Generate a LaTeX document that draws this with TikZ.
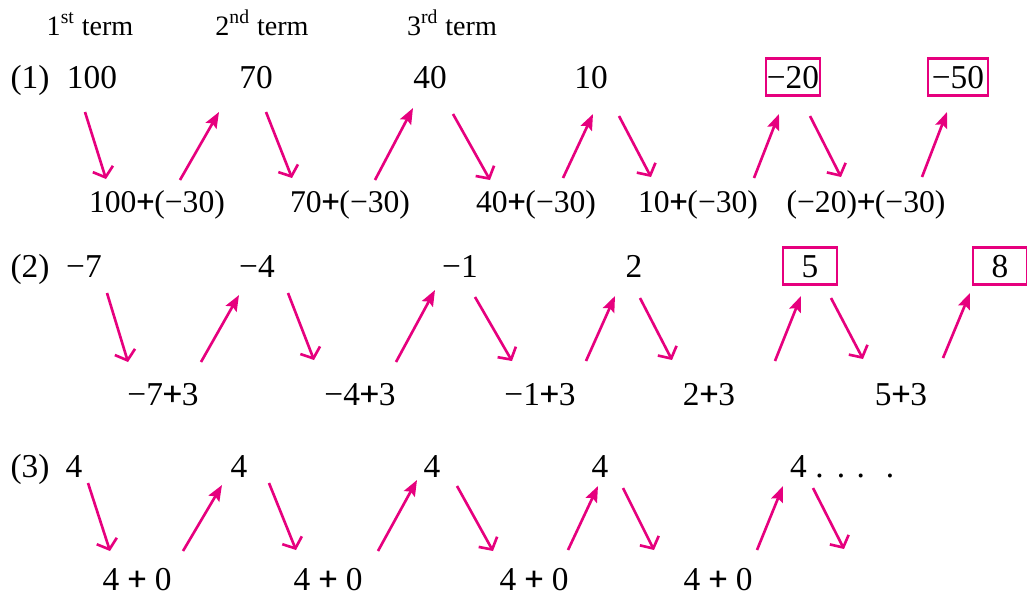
\documentclass[tikz,border=0pt]{standalone}
\usepackage{fontspec}
\setmainfont{Liberation Serif}
\newfontfamily\plusfont[FakeBold=2.5]{Liberation Serif}
\newcommand\bplus{{\plusfont +}}
\usetikzlibrary{calc, arrows.meta}
\definecolor{seqpink}{HTML}{E6007E}

\begin{document}
\begin{tikzpicture}[x=0.02cm, y=-0.02cm,
    term/.style={anchor=base, font=\fontsize{19}{22}\selectfont},
    sumone/.style={anchor=base, font=\fontsize{18}{21}\selectfont},
    headtext/.style={anchor=base, font=\fontsize{16}{19}\selectfont},
    boxed/.style={term, draw=seqpink, line width=1.6pt, inner xsep=0.5pt,
        minimum width=1.08cm, minimum height=0.74cm},
    goesdown/.style={seqpink, line width=1.5pt, -{Straight Barb[length=5pt,width=12pt]}},
    goesup/.style={seqpink, line width=1.5pt, -{Stealth[length=9pt,width=7pt,inset=1.5pt]}}]

    \useasboundingbox (0,0) rectangle (1027,596);

    % headings
    \node[headtext] (h1) at (90,35) {1\textsuperscript{st} term};
    \node[headtext] (h2) at (262,35) {2\textsuperscript{nd} term};
    \node[headtext] (h3) at (452,35) {3\textsuperscript{rd} term};

    % sequence (1)
    \node[term] (n1) at (30,88) {(1)};
    \node[term] (t11) at (92,88) {100};
    \node[term] (t12) at (256,88) {70};
    \node[term] (t13) at (430,88) {40};
    \node[term] (t14) at (591,88) {10};
    \node[boxed] (t15) at (793,88) {−20};
    \node[boxed, minimum width=1.2cm] (t16) at (958,88) {−50};
    \node[sumone] (e11) at (157,212) {100\bplus(−30)};
    \node[sumone] (e12) at (350,212) {70\bplus(−30)};
    \node[sumone] (e13) at (536,212) {40\bplus(−30)};
    \node[sumone] (e14) at (698,212) {10\bplus(−30)};
    \node[sumone] (e15) at (866,212) {(−20)\bplus(−30)};
    \draw[goesdown] ($(t11.base)+(-7,24)$) -- ($(e11.base)+(-51,-33)$);
    \draw[goesup] ($(e11.base)+(23,-32)$) -- ($(t12.base)+(-37,24)$);
    \draw[goesdown] ($(t12.base)+(10,24)$) -- ($(e12.base)+(-58,-34)$);
    \draw[goesup] ($(e12.base)+(25,-32)$) -- ($(t13.base)+(-17,20)$);
    \draw[goesdown] ($(t13.base)+(23,26)$) -- ($(e13.base)+(-46,-32)$);
    \draw[goesup] ($(e13.base)+(27,-34)$) -- ($(t14.base)+(2,26)$);
    \draw[goesdown] ($(t14.base)+(28,28)$) -- ($(e14.base)+(-47,-35)$);
    \draw[goesup] ($(e14.base)+(56,-34)$) -- ($(t15.base)+(-14,26)$);
    \draw[goesdown] ($(t15.base)+(17,28)$) -- ($(e15.base)+(-25,-35)$);
    \draw[goesup] ($(e15.base)+(56,-35)$) -- ($(t16.base)+(-11,24)$);

    % sequence (2)
    \node[term] (n2) at (30,277) {(2)};
    \node[term] (t21) at (84,277) {−7};
    \node[term] (t22) at (257,277) {−4};
    \node[term] (t23) at (460,277) {−1};
    \node[term] (t24) at (634,277) {2};
    \node[boxed] (t25) at (810,277) {5};
    \node[boxed] (t26) at (1000,277) {8};
    \node[term] (e21) at (163,405) {−7\bplus3};
    \node[term] (e22) at (360,405) {−4\bplus3};
    \node[term] (e23) at (540,405) {−1\bplus3};
    \node[term] (e24) at (709,405) {2\bplus3};
    \node[term] (e25) at (901,405) {5\bplus3};
    \draw[goesdown] ($(t21.base)+(23,16)$) -- ($(e21.base)+(-35,-43)$);
    \draw[goesup] ($(e21.base)+(38,-43)$) -- ($(t22.base)+(-18,18)$);
    \draw[goesdown] ($(t22.base)+(31,16)$) -- ($(e22.base)+(-46,-45)$);
    \draw[goesup] ($(e22.base)+(36,-43)$) -- ($(t23.base)+(-25,13)$);
    \draw[goesdown] ($(t23.base)+(15,20)$) -- ($(e23.base)+(-28,-44)$);
    \draw[goesup] ($(e23.base)+(46,-44)$) -- ($(t24.base)+(-19,19)$);
    \draw[goesdown] ($(t24.base)+(6,21)$) -- ($(e24.base)+(-37,-45)$);
    \draw[goesup] ($(e24.base)+(66,-44)$) -- ($(t25.base)+(-9,19)$);
    \draw[goesdown] ($(t25.base)+(21,21)$) -- ($(e25.base)+(-38,-46)$);
    \draw[goesup] ($(e25.base)+(42,-47)$) -- ($(t26.base)+(-30,16)$);

    % sequence (3)
    \node[term] (n3) at (30,477) {(3)};
    \node[term] (t31) at (74,477) {4};
    \node[term] (t32) at (239,477) {4};
    \node[term] (t33) at (432,477) {4};
    \node[term] (t34) at (600,477) {4};
    \node[term, anchor=base west] (t35) at (784,477)
        {4 .\hspace{7.5pt}.\hspace{6.5pt}.\hspace{12pt}.};
    \node[term] (e31) at (137,590) {4 \bplus{} 0};
    \node[term] (e32) at (328,590) {4 \bplus{} 0};
    \node[term] (e33) at (534,590) {4 \bplus{} 0};
    \node[term] (e34) at (718,590) {4 \bplus{} 0};
    \draw[goesdown] ($(t31.base)+(14,6)$) -- ($(e31.base)+(-27,-39)$);
    \draw[goesup] ($(e31.base)+(46,-39)$) -- ($(t32.base)+(-17,8)$);
    \draw[goesdown] ($(t32.base)+(30,6)$) -- ($(e32.base)+(-32,-40)$);
    \draw[goesup] ($(e32.base)+(50,-39)$) -- ($(t33.base)+(-15,3)$);
    \draw[goesdown] ($(t33.base)+(25,9)$) -- ($(e33.base)+(-41,-39)$);
    \draw[goesup] ($(e33.base)+(34,-40)$) -- ($(t34.base)+(-2,9)$);
    \draw[goesdown] ($(t34.base)+(23,11)$) -- ($(e34.base)+(-64,-40)$);
    \draw[goesup] ($(e34.base)+(39,-40)$) -- ($(t35.base west)+(-1,9)$);
    \draw[goesdown] ($(t35.base west)+(29,11)$) -- ($(t35.base west)+(60,72)$);

\end{tikzpicture}
\end{document}
